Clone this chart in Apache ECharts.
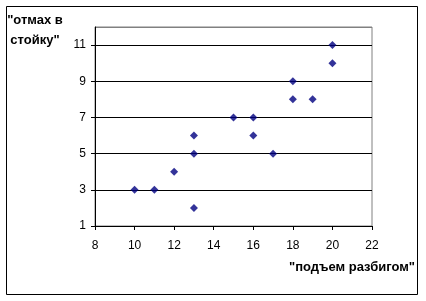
<!DOCTYPE html>
<html>
<head>
<meta charset="utf-8">
<script src="https://cdn.jsdelivr.net/npm/echarts@6/dist/echarts.min.js"></script>
<style>
html,body{margin:0;padding:0;background:#fff;}
#c{width:426px;height:301px;}
</style>
</head>
<body>
<div id="c"></div>
<script>
const xValues = [10, 11, 12, 13, 13, 13, 15, 16, 16, 17, 18, 18, 19, 20, 20];
const yValues = [3, 3, 4, 5, 6, 2, 7, 7, 6, 5, 9, 8, 8, 11, 10];
const xAxisTitle = '"подъем разбигом"';
const yAxisTitle = '"отмах в\nстойку"';

const points = xValues.map((x, i) => [x, yValues[i]]);
const chart = echarts.init(document.getElementById('c'), null, {renderer: 'canvas'});
const font = 'Liberation Sans, Arial, sans-serif';
chart.setOption({
  animation: false,
  backgroundColor: '#fff',
  grid: {left: 95, top: 27, right: 54, bottom: 75, show: true, borderColor: '#808080', borderWidth: 1, backgroundColor: 'transparent'},
  xAxis: {
    type: 'value', min: 8, max: 22, interval: 2,
    axisLine: {show: true, onZero: false, lineStyle: {color: '#000', width: 1}},
    axisTick: {show: true, inside: false, length: 4, lineStyle: {color: '#000'}},
    axisLabel: {color: '#000', fontFamily: font, fontSize: 12, margin: 14},
    splitLine: {show: false}
  },
  yAxis: {
    type: 'value', min: 1, max: 12, interval: 2,
    axisLine: {show: true, onZero: false, lineStyle: {color: '#000', width: 1}},
    axisTick: {show: true, inside: false, length: 4, lineStyle: {color: '#000'}},
    axisLabel: {color: '#000', fontFamily: font, fontSize: 12, margin: 9, showMaxLabel: false,
      formatter: v => (v === 12 ? '' : String(v))},
    splitLine: {show: true, lineStyle: {color: ['#000', '#000', '#000', '#000', '#000', '#000', '#808080'], width: 1}}
  },
  graphic: [
    {type: 'rect', shape: {x: 6.5, y: 6.5, width: 411, height: 288}, style: {fill: 'none', stroke: '#000', lineWidth: 1}, silent: true},
    {type: 'text', x: 35, y: 10, style: {text: yAxisTitle, font: 'bold 13px ' + font, fill: '#000', textAlign: 'center', lineHeight: 20}},
    {type: 'text', x: 415, y: 261, style: {text: xAxisTitle, font: 'bold 13px ' + font, fill: '#000', textAlign: 'right'}}
  ],
  series: [{
    type: 'scatter',
    data: points,
    symbol: 'diamond',
    symbolSize: 8,
    itemStyle: {color: '#000080'}
  }]
});
</script>
</body>
</html>
